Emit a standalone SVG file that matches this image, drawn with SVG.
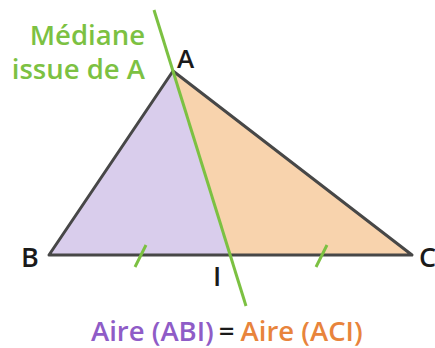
<svg xmlns="http://www.w3.org/2000/svg" width="435" height="348" viewBox="0 0 435 348">
<style>
.lbl{font-family:"Open Sans","Noto Sans","Liberation Sans",sans-serif;font-weight:600;fill:#1a1a1a}
.green{font-family:"Open Sans","Noto Sans","Liberation Sans",sans-serif;font-weight:600;fill:#7cc142;font-size:27.5px}
.eq{font-family:"Open Sans","Noto Sans","Liberation Sans",sans-serif;font-weight:600;font-size:27.5px}
.tri{stroke:none}
.edge{fill:none;stroke:#474747;stroke-width:3;stroke-linejoin:round}
.gl{stroke:#7cc142;stroke-width:3;stroke-linecap:butt;fill:none}
</style>
<g id="triangle">
<polygon class="tri" points="49,255 173,71 230,255" fill="#d9cdec"/>
<polygon class="tri" points="173,71 412,255 230,255" fill="#f8d3ad"/>
<polygon class="edge" points="49,255 173,71 412,255"/>
</g>
<g id="connectors">
<line class="gl" x1="154" y1="10" x2="246" y2="306"/>
<line class="gl" x1="135" y1="267" x2="146" y2="245"/>
<line class="gl" x1="316" y1="267" x2="327" y2="245"/>
</g>
<g id="label-median">
<text class="green" x="145" y="45" text-anchor="end">Médiane</text>
<text class="green" x="145" y="79" text-anchor="end">issue de A</text>
</g>
<g id="vertex-A"><text class="lbl" x="177" y="68" font-size="26">A</text></g>
<g id="vertex-B"><text class="lbl" x="21" y="267" font-size="27">B</text></g>
<g id="vertex-C"><text class="lbl" x="419" y="267" font-size="27">C</text></g>
<g id="point-I"><text class="lbl" x="213" y="286" font-size="27">I</text></g>
<g id="caption">
<text class="eq" x="91" y="341"><tspan fill="#8f5cc7">Aire (ABI)</tspan><tspan fill="#1a1a1a" dx="5">=</tspan><tspan fill="#e8843c" dx="6">Aire (ACI)</tspan></text>
</g>
</svg>
